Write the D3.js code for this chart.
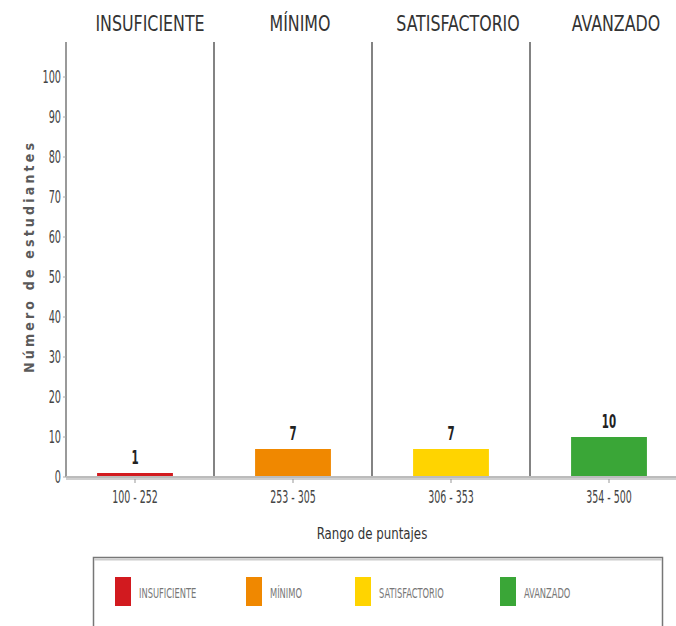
<!DOCTYPE html>
<html>
<head>
<meta charset="utf-8">
<script src="https://cdn.jsdelivr.net/npm/d3@7"></script>
<style>
  html, body { margin: 0; padding: 0; background: #fff; }
  svg { display: block; }
  text { font-family: "DejaVu Sans Condensed", "Liberation Sans Narrow", "Open Sans", sans-serif; }
</style>
</head>
<body>
<svg id="chart" width="676" height="626"></svg>
<script>
// Performance levels and score ranges
const levels = ["INSUFICIENTE", "MÍNIMO", "SATISFACTORIO", "AVANZADO"];
const ranges = ["100 - 252", "253 - 305", "306 - 353", "354 - 500"];
const students = [1, 7, 7, 10];
const colors = ["#d21a1f", "#f08800", "#ffd400", "#3aa637"];
const yTicks = [0, 10, 20, 30, 40, 50, 60, 70, 80, 90, 100];

const svg = d3.select("#chart");
const W = 676;
const plotTop = 42, baseY = 477, axisX = 66;

const x = d3.scaleBand().domain(ranges).range([56, 688]);
const y = d3.scaleLinear().domain([0, 100]).range([baseY, 77]);
const barW = x.bandwidth() * 0.48;

// Condensed text helper: squeeze glyphs horizontally
function squeeze(sel, sx) {
  sel.each(function () {
    const t = d3.select(this);
    const tx = +t.attr("data-x"), ty = +t.attr("data-y");
    t.attr("transform", `translate(${tx},${ty}) scale(${sx},1)`);
  });
}

// Level headers
svg.append("g").selectAll("text").data(levels).join("text")
  .attr("data-x", (d, i) => x(ranges[i]) + x.bandwidth() / 2 + (i === 0 ? 15 : 7))
  .attr("data-y", 31)
  .attr("text-anchor", "middle")
  .attr("font-size", 22)
  .attr("fill", "#333")
  .text(d => d)
  .call(squeeze, 0.8);

// Level separators
svg.append("g").selectAll("line").data(ranges.slice(1)).join("line")
  .attr("x1", d => x(d)).attr("x2", d => x(d))
  .attr("y1", plotTop).attr("y2", baseY)
  .attr("stroke", "#5a5a5a").attr("stroke-width", 1.5);

// Y axis line
svg.append("line")
  .attr("x1", axisX).attr("x2", axisX).attr("y1", plotTop).attr("y2", baseY)
  .attr("stroke", "#9a9a9a").attr("stroke-width", 2);

// Y ticks
const yg = svg.append("g");
yg.selectAll("line").data(yTicks).join("line")
  .attr("x1", axisX - 3).attr("x2", axisX).attr("y1", d => y(d)).attr("y2", d => y(d))
  .attr("stroke", "#aaa");
yg.selectAll("text").data(yTicks).join("text")
  .attr("data-x", axisX - 5).attr("data-y", d => y(d) + 6)
  .attr("text-anchor", "end")
  .attr("font-size", 18)
  .attr("fill", "#444")
  .text(d => d)
  .call(squeeze, 0.6);

// Y axis title
svg.append("text")
  .attr("transform", `translate(34,258) rotate(-90)`)
  .attr("text-anchor", "middle")
  .attr("font-family", "DejaVu Sans")
  .attr("font-size", 14)
  .attr("font-weight", 600)
  .attr("textLength", 230)
  .attr("lengthAdjust", "spacing")
  .attr("fill", "#5a5a5a")
  .text("Número de estudiantes");

// Bars
svg.append("g").selectAll("rect").data(students).join("rect")
  .attr("x", (d, i) => x(ranges[i]) + (x.bandwidth() - barW) / 2)
  .attr("y", d => y(d))
  .attr("width", barW)
  .attr("height", d => baseY - y(d))
  .attr("fill", (d, i) => colors[i]);

// Baseline
svg.append("line")
  .attr("x1", axisX).attr("x2", W).attr("y1", baseY + 1).attr("y2", baseY + 1)
  .attr("stroke", "#cfcfcf").attr("stroke-width", 4);
svg.append("line")
  .attr("x1", axisX).attr("x2", W).attr("y1", baseY).attr("y2", baseY)
  .attr("stroke", "#a8a8a8").attr("stroke-width", 1);

// X ticks
const xg = svg.append("g");
xg.selectAll("line").data(ranges).join("line")
  .attr("x1", d => x(d) + x.bandwidth() / 2).attr("x2", d => x(d) + x.bandwidth() / 2)
  .attr("y1", baseY + 2).attr("y2", baseY + 6)
  .attr("stroke", "#999");
xg.selectAll("text").data(ranges).join("text")
  .attr("data-x", d => x(d) + x.bandwidth() / 2).attr("data-y", 503)
  .attr("text-anchor", "middle")
  .attr("font-size", 17)
  .attr("fill", "#444")
  .text(d => d)
  .call(squeeze, 0.62);

// Value labels
svg.append("g").selectAll("text").data(students).join("text")
  .attr("data-x", (d, i) => x(ranges[i]) + x.bandwidth() / 2)
  .attr("data-y", d => y(d) - 9)
  .attr("text-anchor", "middle")
  .attr("font-size", 19)
  .attr("font-weight", "bold")
  .attr("fill", "#222")
  .text(d => d)
  .call(squeeze, 0.6);

// X axis title
svg.append("text")
  .attr("data-x", 372).attr("data-y", 539)
  .attr("text-anchor", "middle")
  .attr("font-size", 16)
  .attr("fill", "#333")
  .text("Rango de puntajes")
  .call(squeeze, 0.82);

// Legend
const lg = svg.append("g");
lg.append("rect")
  .attr("x", 93.5).attr("y", 557.5).attr("width", 569).attr("height", 80)
  .attr("fill", "#fff").attr("stroke", "#777").attr("stroke-width", 1.5);
lg.append("line")
  .attr("x1", 94).attr("x2", 662).attr("y1", 559.5).attr("y2", 559.5)
  .attr("stroke", "#ccc").attr("stroke-width", 2);
const legendX = [115, 246, 355, 500];
const item = lg.selectAll("g.item").data(levels).join("g").attr("class", "item");
item.append("rect")
  .attr("x", (d, i) => legendX[i]).attr("y", 577)
  .attr("width", 16).attr("height", 29)
  .attr("fill", (d, i) => colors[i]);
item.append("text")
  .attr("data-x", (d, i) => legendX[i] + 24).attr("data-y", 598)
  .attr("font-size", 14)
  .attr("fill", "#777")
  .text(d => d)
  .call(squeeze, 0.66);
</script>
</body>
</html>
